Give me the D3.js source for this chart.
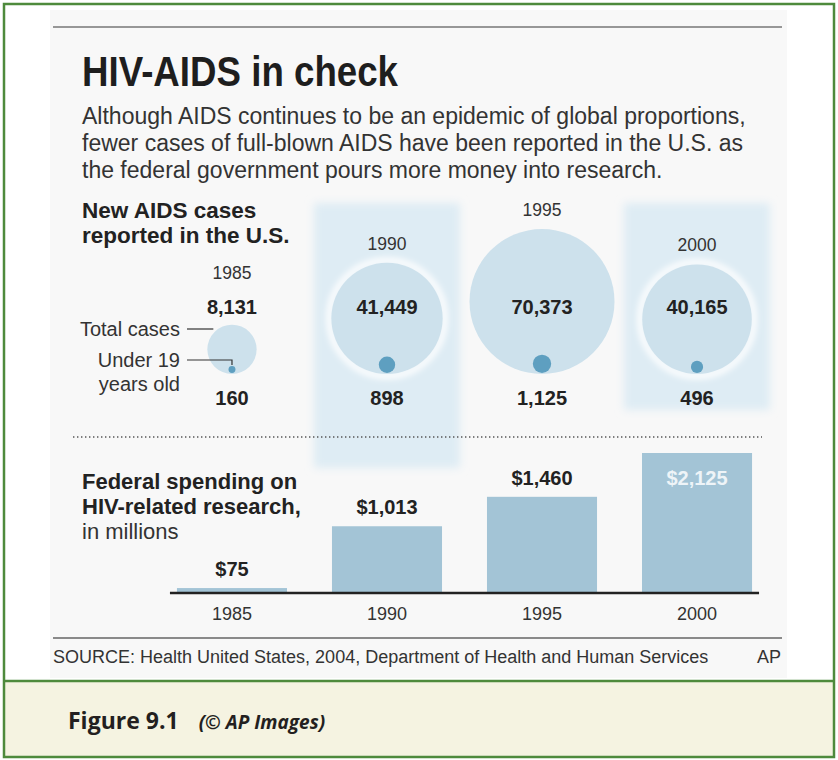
<!DOCTYPE html>
<html>
<head>
<meta charset="utf-8">
<script src="https://cdn.jsdelivr.net/npm/d3@7"></script>
<style>
  html, body { margin: 0; padding: 0; background: #fff; }
  svg { display: block; }
</style>
</head>
<body>
<div id="chart"></div>
<script>
// data
const years = ['1985', '1990', '1995', '2000'];
const totalCases = [8131, 41449, 70373, 40165];
const under19Cases = [160, 898, 1125, 496];
const spending = [75, 1013, 1460, 2125];
const highlightYears = ['1990', '2000'];

const title = 'HIV-AIDS in check';
const subtitleLines = [
  'Although AIDS continues to be an epidemic of global proportions,',
  'fewer cases of full-blown AIDS have been reported in the U.S. as',
  'the federal government pours more money into research.'
];
const casesLabel = ['New AIDS cases', 'reported in the U.S.'];
const spendingLabel = ['Federal spending on', 'HIV-related research,'];
const spendingUnit = 'in millions';
const sourceText = 'SOURCE: Health United States, 2004, Department of Health and Human Services';
const creditText = 'AP';
const figureLabel = 'Figure 9.1';
const figureCredit = '(© AP Images)';

const W = 838, H = 760;
const sans = '"Liberation Sans", Arial, Helvetica, sans-serif';

const rows = years.map((y, i) => ({
  year: y, total: totalCases[i], under19: under19Cases[i], spend: spending[i]
}));

const svg = d3.select('#chart').append('svg')
  .attr('width', W)
  .attr('height', H);

const defs = svg.append('defs');
defs.append('filter').attr('id', 'soft').attr('x', '-20%').attr('y', '-20%').attr('width', '140%').attr('height', '140%')
  .append('feGaussianBlur').attr('stdDeviation', 4);
defs.append('filter').attr('id', 'glow').attr('x', '-30%').attr('y', '-30%').attr('width', '160%').attr('height', '160%')
  .append('feGaussianBlur').attr('stdDeviation', 3);

// frame backgrounds
svg.append('rect')
  .attr('x', 4).attr('y', 681).attr('width', 830).attr('height', 76)
  .attr('fill', '#f5f3e1');
svg.append('rect')
  .attr('x', 50).attr('y', 10).attr('width', 737).attr('height', 668)
  .attr('fill', '#f8f8f8');

// scales
const x = d3.scaleBand()
  .domain(years)
  .range([132, 797])
  .padding(0.29);

const r = d3.scaleSqrt()
  .domain([0, d3.max(totalCases)])
  .range([0, 72.5]);

const y = d3.scaleLinear()
  .domain([0, d3.max(spending)])
  .range([593, 453]);

const cx = d => x(d.year) + x.bandwidth() / 2;
const circleBottom = 374;

// highlight panels
svg.selectAll('.hl')
  .data(rows.filter(d => highlightYears.includes(d.year)))
  .enter()
  .append('rect')
  .attr('class', 'hl')
  .attr('x', d => cx(d) - 73)
  .attr('y', 203)
  .attr('width', 146)
  .attr('height', d => d.year === '1990' ? 265 : 207)
  .attr('fill', '#deecf4')
  .attr('filter', 'url(#soft)');

// white glow round highlighted circles
svg.selectAll('.ring')
  .data(rows.filter(d => highlightYears.includes(d.year)))
  .enter()
  .append('circle')
  .attr('cx', cx)
  .attr('cy', d => circleBottom - r(d.total))
  .attr('r', d => r(d.total) + 2)
  .attr('fill', 'none')
  .attr('stroke', '#fff')
  .attr('stroke-width', 6)
  .attr('filter', 'url(#glow)');

// total cases
svg.selectAll('.total')
  .data(rows)
  .enter()
  .append('circle')
  .attr('class', 'total')
  .attr('cx', cx)
  .attr('cy', d => circleBottom - r(d.total))
  .attr('r', d => r(d.total))
  .attr('fill', '#cde1ec');

// under 19
svg.selectAll('.young')
  .data(rows)
  .enter()
  .append('circle')
  .attr('class', 'young')
  .attr('cx', cx)
  .attr('cy', d => circleBottom - 1 - r(d.under19))
  .attr('r', d => r(d.under19))
  .attr('fill', '#5e9fc0');

// year labels above circles
svg.selectAll('.yr')
  .data(rows)
  .enter()
  .append('text')
  .attr('x', cx)
  .attr('y', d => Math.min(circleBottom - 2 * r(d.total) - 13, 279))
  .attr('text-anchor', 'middle')
  .style('font-family', sans)
  .style('font-size', '17.5px')
  .attr('fill', '#333')
  .text(d => d.year);

svg.selectAll('.tot-lbl')
  .data(rows)
  .enter()
  .append('text')
  .attr('x', cx)
  .attr('y', 314)
  .attr('text-anchor', 'middle')
  .style('font-family', sans)
  .style('font-size', '20px')
  .style('font-weight', 'bold')
  .attr('fill', '#222')
  .text(d => d3.format(',')(d.total));

svg.selectAll('.u19-lbl')
  .data(rows)
  .enter()
  .append('text')
  .attr('x', cx)
  .attr('y', 405)
  .attr('text-anchor', 'middle')
  .style('font-family', sans)
  .style('font-size', '20px')
  .style('font-weight', 'bold')
  .attr('fill', '#222')
  .text(d => d3.format(',')(d.under19));

// key for the first circle
const first = rows[0];
const keyX = cx(first);
svg.append('line')
  .attr('x1', 187).attr('x2', keyX - r(first.total) + 6)
  .attr('y1', 329).attr('y2', 329)
  .attr('stroke', '#333').attr('stroke-width', 1.2);
svg.append('path')
  .attr('d', `M187,360H${keyX}V${circleBottom - 2 * r(first.under19) - 2}`)
  .attr('fill', 'none')
  .attr('stroke', '#333').attr('stroke-width', 1.2);

const keyText = svg.append('g')
  .style('font-family', sans)
  .style('font-size', '20px')
  .attr('fill', '#333')
  .attr('text-anchor', 'end');
keyText.append('text').attr('x', 180).attr('y', 336).text('Total cases');
keyText.append('text').attr('x', 180).attr('y', 367).text('Under 19');
keyText.append('text').attr('x', 180).attr('y', 391).text('years old');

// dotted separator
svg.append('line')
  .attr('x1', 73).attr('x2', 762)
  .attr('y1', 437).attr('y2', 437)
  .attr('stroke', '#555')
  .attr('stroke-width', 1.4)
  .attr('stroke-dasharray', '1.4,2.6');

// spending bars
svg.selectAll('.bar')
  .data(rows)
  .enter()
  .append('rect')
  .attr('class', 'bar')
  .attr('x', d => x(d.year))
  .attr('y', d => y(d.spend))
  .attr('width', x.bandwidth())
  .attr('height', d => y(0) - y(d.spend))
  .attr('fill', '#a3c4d6');

const inside = d => y(d.spend) - 12 < 470;
svg.selectAll('.bar-lbl')
  .data(rows)
  .enter()
  .append('text')
  .attr('x', cx)
  .attr('y', d => inside(d) ? y(d.spend) + 32 : y(d.spend) - 12)
  .attr('text-anchor', 'middle')
  .style('font-family', sans)
  .style('font-size', '20px')
  .style('font-weight', 'bold')
  .attr('fill', d => inside(d) ? '#eef4f8' : '#222')
  .text(d => '$' + d3.format(',')(d.spend));

// baseline and year ticks
const axis = svg.append('g')
  .attr('transform', `translate(0,${y(0)})`)
  .call(d3.axisBottom(x).tickSize(0).tickPadding(14));
axis.select('.domain').remove();
axis.selectAll('text')
  .style('font-family', sans)
  .style('font-size', '18px')
  .attr('fill', '#333');

svg.append('line')
  .attr('x1', x(years[0]) - 7)
  .attr('x2', x(years[years.length - 1]) + x.bandwidth() + 7)
  .attr('y1', y(0)).attr('y2', y(0))
  .attr('stroke', '#222')
  .attr('stroke-width', 2.5);

// headings
svg.append('line')
  .attr('x1', 53).attr('x2', 782).attr('y1', 27).attr('y2', 27)
  .attr('stroke', '#777').attr('stroke-width', 1.5);

svg.append('text')
  .attr('x', 82).attr('y', 86)
  .style('font-family', sans)
  .style('font-size', '42px')
  .style('font-weight', 'bold')
  .attr('textLength', 316)
  .attr('lengthAdjust', 'spacingAndGlyphs')
  .attr('fill', '#1e1e1e')
  .text(title);

svg.append('g')
  .style('font-family', sans)
  .style('font-size', '23px')
  .attr('fill', '#333')
  .selectAll('text')
  .data(subtitleLines)
  .enter()
  .append('text')
  .attr('x', 82)
  .attr('y', (d, i) => 124 + i * 27)
  .text(d => d);

svg.append('g')
  .style('font-family', sans)
  .style('font-size', '22.5px')
  .style('font-weight', 'bold')
  .attr('fill', '#222')
  .selectAll('text')
  .data(casesLabel)
  .enter()
  .append('text')
  .attr('x', 82)
  .attr('y', (d, i) => 218 + i * 25)
  .text(d => d);

svg.append('g')
  .style('font-family', sans)
  .style('font-size', '22px')
  .style('font-weight', 'bold')
  .attr('fill', '#222')
  .selectAll('text')
  .data(spendingLabel)
  .enter()
  .append('text')
  .attr('x', 82)
  .attr('y', (d, i) => 489 + i * 25)
  .text(d => d);

svg.append('text')
  .attr('x', 82).attr('y', 539)
  .style('font-family', sans)
  .style('font-size', '22px')
  .attr('fill', '#333')
  .text(spendingUnit);

// footer
svg.append('line')
  .attr('x1', 53).attr('x2', 782).attr('y1', 638).attr('y2', 638)
  .attr('stroke', '#666').attr('stroke-width', 1.5);

svg.append('text')
  .attr('x', 53).attr('y', 663)
  .style('font-family', sans)
  .style('font-size', '18px')
  .attr('fill', '#333')
  .text(sourceText);

svg.append('text')
  .attr('x', 781).attr('y', 663)
  .attr('text-anchor', 'end')
  .style('font-family', sans)
  .style('font-size', '18px')
  .attr('fill', '#333')
  .text(creditText);

// green frame
svg.append('rect')
  .attr('x', 4).attr('y', 4).attr('width', 830).attr('height', 753)
  .attr('fill', 'none')
  .attr('stroke', '#4e8a3c')
  .attr('stroke-width', 2.5);
svg.append('line')
  .attr('x1', 4).attr('x2', 834).attr('y1', 681).attr('y2', 681)
  .attr('stroke', '#4e8a3c')
  .attr('stroke-width', 2.5);

// caption
const cap = svg.append('text')
  .attr('x', 68).attr('y', 729)
  .style('font-family', '"Open Sans", "Noto Sans", sans-serif')
  .attr('fill', '#231f20');
cap.append('tspan')
  .style('font-size', '23px')
  .style('font-weight', 'bold')
  .text(figureLabel);
cap.append('tspan')
  .attr('dx', 20)
  .style('font-size', '19px')
  .style('font-weight', 'bold')
  .style('font-style', 'italic')
  .text(figureCredit);
</script>
</body>
</html>
